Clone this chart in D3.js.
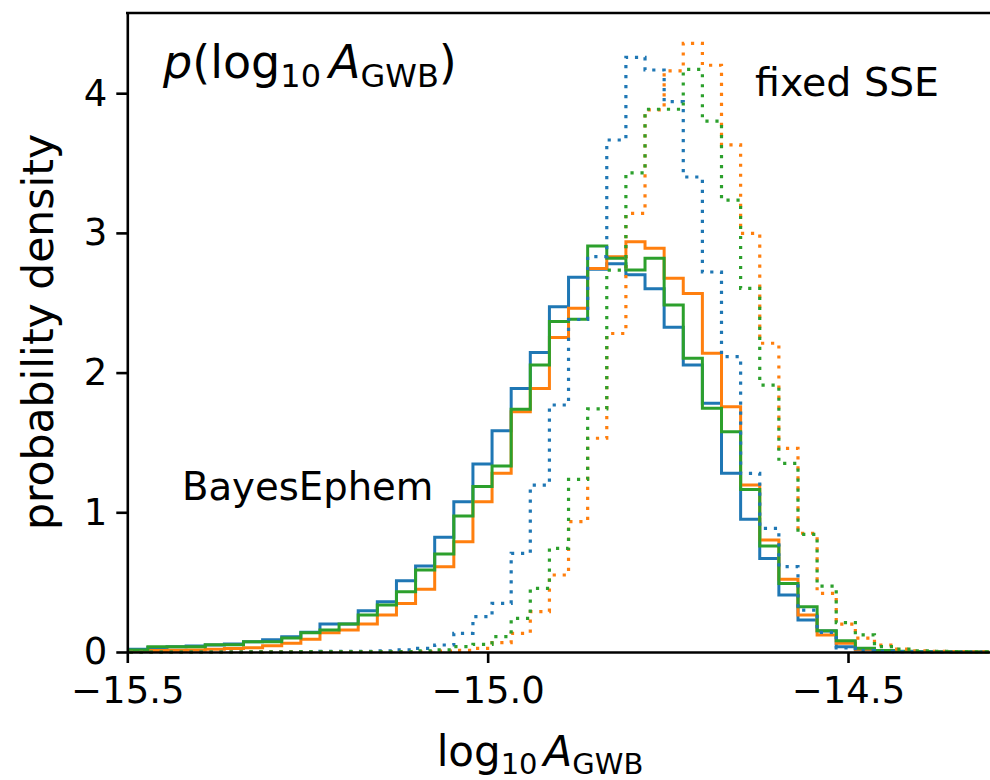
<!DOCTYPE html>
<html>
<head>
<meta charset="utf-8">
<script src="https://cdn.jsdelivr.net/npm/d3@7"></script>
<style>
  body { margin: 0; background: #fff; }
  text { font-family: "DejaVu Sans", sans-serif; fill: #000; }
</style>
</head>
<body>
<svg id="chart" width="990" height="780"></svg>
<script>
// ---------- data ----------
const binStart = -15.5245;     // left edge of first histogram bin (log10 A_GWB)
const binWidth = 0.02653;      // common bin width
const xTicks = [-15.5, -15.0, -14.5];
const yTicks = [0, 1, 2, 3, 4];
const seriesColors = ["#1f77b4", "#ff7f0e", "#2ca02c"];

// BayesEphem (solid) histograms
const bayesBlue = [0.01, 0.019, 0.033, 0.038, 0.043, 0.05, 0.057, 0.074, 0.088, 0.11, 0.141, 0.2, 0.2, 0.296, 0.36, 0.51, 0.616, 0.821, 1.076, 1.346, 1.584, 1.887, 2.143, 2.472, 2.682, 2.74, 2.78, 2.70, 2.60, 2.324, 2.054, 1.78, 1.279, 0.95, 0.67, 0.408, 0.229, 0.15, 0.038, 0.014, 0.006, 0.003, 0.002, 0.001, 0, 0];
const bayesOrange = [0.005, 0.008, 0.01, 0.012, 0.015, 0.02, 0.025, 0.03, 0.045, 0.062, 0.091, 0.138, 0.157, 0.2, 0.265, 0.348, 0.449, 0.611, 0.79, 1.076, 1.279, 1.72, 1.887, 2.252, 2.46, 2.746, 2.83, 2.937, 2.89, 2.675, 2.567, 2.138, 1.756, 1.195, 0.802, 0.52, 0.265, 0.122, 0.062, 0.019, 0.008, 0.004, 0.002, 0.001, 0, 0];
const bayesGreen = [0.014, 0.014, 0.038, 0.038, 0.038, 0.052, 0.052, 0.074, 0.074, 0.1, 0.138, 0.157, 0.2, 0.265, 0.336, 0.432, 0.587, 0.702, 0.974, 1.184, 1.331, 1.737, 2.054, 2.365, 2.381, 2.906, 2.818, 2.734, 2.818, 2.484, 2.102, 1.744, 1.577, 1.164, 0.759, 0.49, 0.324, 0.153, 0.081, 0.026, 0.01, 0.005, 0.003, 0.002, 0.001, 0];

// fixed SSE (dotted) histograms
const fixedBlue = [0, 0, 0, 0, 0.001, 0.001, 0.001, 0.002, 0.002, 0.003, 0.003, 0.004, 0.004, 0.005, 0.008, 0.015, 0.026, 0.05, 0.134, 0.253, 0.348, 0.706, 1.195, 1.768, 2.38, 2.83, 3.665, 4.257, 4.166, 3.94, 3.40, 2.72, 2.114, 1.279, 0.885, 0.611, 0.30, 0.14, 0.03, 0.01, 0.004, 0.002, 0.001, 0, 0, 0];
const fixedOrange = [0, 0, 0, 0, 0, 0, 0, 0, 0.001, 0.001, 0.001, 0.001, 0.002, 0.002, 0.002, 0.002, 0.003, 0.006, 0.012, 0.026, 0.067, 0.134, 0.289, 0.551, 0.933, 1.53, 2.28, 3.14, 3.88, 4.16, 4.357, 4.2, 3.63, 2.997, 2.21, 1.458, 0.85, 0.42, 0.2, 0.1, 0.05, 0.02, 0.008, 0.004, 0.002, 0.001];
const fixedGreen = [0, 0, 0, 0, 0, 0, 0, 0.001, 0.001, 0.001, 0.002, 0.002, 0.002, 0.003, 0.003, 0.003, 0.008, 0.015, 0.038, 0.055, 0.11, 0.241, 0.456, 0.742, 1.236, 1.74, 2.734, 3.43, 3.885, 3.885, 4.17, 3.80, 3.235, 2.603, 1.911, 1.35, 0.842, 0.472, 0.21, 0.122, 0.038, 0.02, 0.008, 0.004, 0.002, 0.001];

const xDomain = [-15.5, -14.303];
const yDomain = [0, 4.574];

// ---------- layout ----------
const plot = { left: 127.3, right: 990, top: 13, bottom: 652 };
const svg = d3.select("#chart");

const x = d3.scaleLinear().domain(xDomain).range([plot.left, plot.right]);
const y = d3.scaleLinear().domain(yDomain).range([plot.bottom, plot.top]);

svg.append("defs").append("clipPath").attr("id", "plotClip")
  .append("rect")
  .attr("x", plot.left).attr("y", plot.top - 2)
  .attr("width", plot.right - plot.left + 5)
  .attr("height", plot.bottom - plot.top + 4);

function stepPoints(vals) {
  const pts = [[binStart, 0]];
  vals.forEach((v, k) => {
    pts.push([binStart + k * binWidth, v]);
    pts.push([binStart + (k + 1) * binWidth, v]);
  });
  pts.push([binStart + vals.length * binWidth, 0]);
  return pts;
}
const line = d3.line().x(d => x(d[0])).y(d => y(d[1]));

const g = svg.append("g").attr("clip-path", "url(#plotClip)");

const solidSeries = [bayesBlue, bayesOrange, bayesGreen];
const dottedSeries = [fixedBlue, fixedOrange, fixedGreen];

solidSeries.forEach((vals, i) => {
  g.append("path").attr("d", line(stepPoints(vals)))
    .attr("fill", "none").attr("stroke", seriesColors[i])
    .attr("stroke-width", 3).attr("stroke-linejoin", "miter");
});
dottedSeries.forEach((vals, i) => {
  g.append("path").attr("d", line(stepPoints(vals)))
    .attr("fill", "none").attr("stroke", seriesColors[i])
    .attr("stroke-width", 3.2).attr("stroke-dasharray", "3.2,6.8");
});

// ---------- axes ----------
const axisFont = 37;
const yAxis = svg.append("g").attr("transform", `translate(${plot.left},0)`)
  .call(d3.axisLeft(y).tickValues(yTicks).tickSize(11).tickSizeOuter(0).tickPadding(9).tickFormat(d3.format("d")));
const xAxis = svg.append("g").attr("transform", `translate(0,${plot.bottom})`)
  .call(d3.axisBottom(x).tickValues(xTicks).tickSize(11).tickSizeOuter(0).tickPadding(14).tickFormat(d3.format(".1f")));

[yAxis, xAxis].forEach(a => {
  a.selectAll(".domain").attr("stroke", "#000").attr("stroke-width", 2.6);
  a.selectAll(".tick line").attr("stroke", "#000").attr("stroke-width", 2.6);
  a.selectAll(".tick text").style("font-family", "DejaVu Sans").attr("font-size", axisFont).attr("fill", "#000");
});
// top spine
svg.append("line").attr("x1", plot.left - 1.3).attr("x2", plot.right)
  .attr("y1", plot.top).attr("y2", plot.top)
  .attr("stroke", "#000").attr("stroke-width", 2.6);

// ---------- labels ----------
const xl = svg.append("text").attr("x", 540).attr("y", 766)
  .attr("text-anchor", "middle").attr("font-size", 42);
xl.append("tspan").text("log");
xl.append("tspan").attr("font-size", 29).attr("dy", 8).text("10");
xl.append("tspan").attr("dy", -8).attr("dx", 6).attr("font-style", "italic").text("A");
xl.append("tspan").attr("font-size", 29).attr("dy", 8).text("GWB");

svg.append("text").attr("transform", "translate(53,332) rotate(-90)")
  .attr("text-anchor", "middle").attr("font-size", 42.5).text("probability density");

const t = svg.append("text").attr("x", 163).attr("y", 78).attr("font-size", 46);
t.append("tspan").attr("font-style", "italic").text("p");
t.append("tspan").text("(log");
t.append("tspan").attr("font-size", 32).attr("dy", 9).text("10");
t.append("tspan").attr("dy", -9).attr("dx", 8).attr("font-style", "italic").text("A");
t.append("tspan").attr("font-size", 32).attr("dy", 9).text("GWB");
t.append("tspan").attr("dy", -9).text(")");

svg.append("text").attr("x", 755).attr("y", 96).attr("font-size", 39.5).text("fixed SSE");
svg.append("text").attr("x", 182).attr("y", 500).attr("font-size", 38.6).text("BayesEphem");
</script>
</body>
</html>
